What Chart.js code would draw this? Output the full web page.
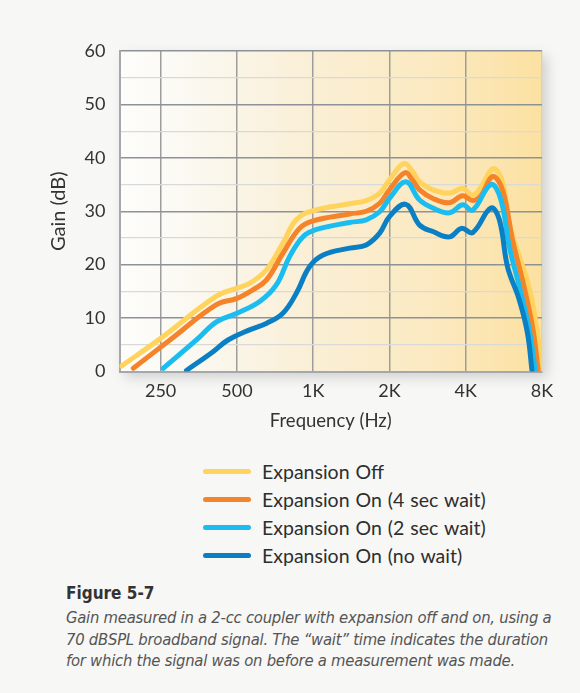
<!DOCTYPE html>
<html lang="en">
<head>
  <meta charset="UTF-8">
  <title>Figure 5-7</title>
  <script src="https://cdn.jsdelivr.net/npm/chart.js"></script>
  <style>
    body {
      margin: 0;
      width: 580px;
      height: 693px;
      background-color: #f7f7f6;
      font-family: 'Lato', sans-serif;
      color: #333;
      position: relative;
      overflow: hidden;
    }
    #wrap {
      position: absolute;
      left: 0;
      top: 0;
      width: 580px;
      height: 440px;
    }
    #legend {
      position: absolute;
      left: 203px;
      top: 458px;
    }
    .row {
      display: flex;
      align-items: center;
      height: 27.8px;
      font-size: 19.5px;
      word-spacing: 1px;
      color: #2e2e2e;
    }
    .bar {
      width: 48px;
      height: 5px;
      border-radius: 3px;
      margin-right: 11px;
    }
    #caption {
      position: absolute;
      left: 66px;
      top: 583px;
      font-family: 'Liberation Sans Narrow', 'DejaVu Sans Condensed', 'Liberation Sans', sans-serif;
      font-stretch: condensed;
    }
    #caption .fig {
      font-weight: 900;
      font-size: 17px;
      color: #333;
      margin-bottom: 4px;
    }
    #caption .txt {
      font-style: italic;
      font-size: 16.5px;
      line-height: 21.7px;
      letter-spacing: -0.25px;
      color: #555;
    }
  </style>
</head>
<body>

  <div id="wrap"><canvas id="gainChart" width="580" height="440"></canvas></div>
  <div id="legend"></div>
  <div id="caption">
    <div class="fig">Figure 5-7</div>
    <div class="txt">Gain measured in a 2-cc coupler with expansion off and on, using a<br>70 dBSPL broadband signal. The “wait” time indicates the duration<br>for which the signal was on before a measurement was made.</div>
  </div>

  <script>
    // axis ticks
    const freqTicks = [250, 500, 1000, 2000, 4000, 8000];
    const freqLabels = ['250', '500', '1K', '2K', '4K', '8K'];
    const gainTicks = [0, 10, 20, 30, 40, 50, 60];

    const seriesNames = ['Expansion Off', 'Expansion On (4 sec wait)', 'Expansion On (2 sec wait)', 'Expansion On (no wait)'];
    const seriesColors = ['#ffd35c', '#f5832a', '#1bbdf0', '#0a7fc4'];

    // Expansion Off
    const offFreq = [175, 250, 415, 500, 561, 653, 759, 857, 1000, 1394, 1620, 1830, 2000, 2280, 2470, 2630, 2970, 3450, 3890, 4260, 4600, 5150, 5620, 5950, 6510, 6920, 7340, 7800, 7920];
    const offGain = [1.0, 6.2, 14.1, 15.6, 16.5, 19.0, 24.0, 28.4, 30.1, 31.4, 32.0, 33.4, 35.9, 38.9, 37.4, 35.5, 34.0, 33.4, 34.3, 33.0, 34.6, 38.0, 35.0, 27.7, 21.5, 17.8, 12.8, 4.6, 0.5];

    // Expansion On, 4 sec wait
    const on4Freq = [195, 272, 415, 500, 578, 653, 759, 883, 1000, 1394, 1620, 1830, 2000, 2300, 2470, 2630, 2970, 3450, 3890, 4260, 4600, 5110, 5590, 6120, 6700, 7340, 7730];
    const on4Gain = [0.6, 5.9, 12.5, 13.7, 15.3, 17.1, 22.1, 26.8, 28.2, 29.5, 30.0, 31.5, 34.0, 37.2, 35.8, 34.0, 32.4, 31.6, 32.9, 32.0, 33.0, 36.5, 34.0, 24.6, 17.1, 8.4, 0.3];

    // Expansion On, 2 sec wait
    const on2Freq = [256, 346, 415, 500, 615, 715, 807, 910, 1031, 1394, 1620, 1830, 2000, 2320, 2630, 2970, 3450, 3890, 4260, 5030, 5510, 5940, 6510, 7120, 7520];
    const on2Gain = [0.6, 5.9, 9.3, 10.9, 13.1, 16.2, 21.5, 25.2, 26.6, 27.9, 28.4, 29.9, 32.4, 35.5, 32.1, 30.6, 29.7, 31.2, 30.2, 35.0, 32.1, 23.4, 15.9, 7.8, 0.3];

    // Expansion On, no wait
    const nwFreq = [316, 400, 461, 561, 653, 759, 857, 967, 1095, 1394, 1620, 1830, 2000, 2320, 2630, 2970, 3450, 3850, 4260, 5030, 5430, 5850, 6510, 7010, 7300];
    const nwGain = [0.2, 3.6, 5.9, 7.8, 9.0, 10.9, 14.6, 19.6, 21.8, 23.1, 23.7, 25.9, 29.0, 31.3, 27.4, 26.2, 25.2, 26.8, 26.0, 30.6, 28.4, 19.6, 13.4, 7.2, 0.3];

    const allFreq = [offFreq, on4Freq, on2Freq, nwFreq];
    const allGain = [offGain, on4Gain, on2Gain, nwGain];

    const fontFam = "'Lato', sans-serif";

    // shaded plot area with drop shadow
    const plotBg = {
      id: 'plotBg',
      beforeDraw(chart) {
        const { ctx, chartArea: a } = chart;
        ctx.save();
        ctx.shadowColor = 'rgba(0,0,0,0.16)';
        ctx.shadowBlur = 12;
        ctx.shadowOffsetX = 5;
        ctx.shadowOffsetY = 5;
        const g = ctx.createLinearGradient(a.left, 0, a.right, 0);
        g.addColorStop(0, '#fdfdfb');
        g.addColorStop(0.15, '#fbf9f3');
        g.addColorStop(0.45, '#faefd6');
        g.addColorStop(0.75, '#fbe9c0');
        g.addColorStop(1, '#fbe1a1');
        ctx.fillStyle = g;
        ctx.fillRect(a.left, a.top, a.width, a.height);
        ctx.restore();
      }
    };

    const ctx = document.getElementById('gainChart').getContext('2d');

    new Chart(ctx, {
      type: 'line',
      data: {
        datasets: seriesNames.map((name, i) => ({
          label: name,
          data: allFreq[i].map((f, j) => ({ x: f, y: allGain[i][j] })),
          borderColor: seriesColors[i],
          borderWidth: 5,
          borderCapStyle: 'round',
          borderJoinStyle: 'round',
          pointRadius: 0,
          fill: false,
          tension: 0.4
        })).reverse()
      },
      options: {
        responsive: false,
        devicePixelRatio: 1,
        animation: false,
        layout: { padding: { left: 44.5, top: 51, right: 38, bottom: 0 } },
        plugins: {
          legend: { display: false },
          tooltip: { enabled: false }
        },
        scales: {
          x: {
            type: 'logarithmic',
            min: 172,
            max: 8000,
            afterBuildTicks: scale => { scale.ticks = freqTicks.map(v => ({ value: v })); },
            afterFit: scale => { scale.height = 68.5; },
            ticks: {
              autoSkip: false,
              maxRotation: 0,
              padding: 9,
              color: '#333',
              font: { family: fontFam, size: 18 },
              callback: v => freqLabels[freqTicks.indexOf(v)]
            },
            grid: {
              drawTicks: false,
              color: c => (c.tick && c.tick.value === 8000) ? '#d9d3bd' : '#9d9d9d',
              lineWidth: 1.5
            },
            border: { display: true, color: '#a4a7ab', width: 2 },
            title: {
              display: true,
              text: 'Frequency (Hz)',
              color: '#333',
              font: { family: fontFam, size: 18.5 },
              padding: { top: 0, bottom: 8 }
            }
          },
          y: {
            min: 0,
            max: 60,
            afterFit: scale => { scale.width = 75; },
            ticks: {
              stepSize: 5,
              padding: 14,
              color: '#333',
              font: { family: fontFam, size: 18 },
              callback: v => gainTicks.includes(v) ? v : ''
            },
            grid: {
              drawTicks: false,
              color: c => gainTicks.includes(c.tick.value) ? '#8d9298' : '#d9d9d7',
              lineWidth: c => gainTicks.includes(c.tick.value) ? 1.5 : 1.2
            },
            border: { display: true, color: '#a4a7ab', width: 2 },
            title: {
              display: true,
              text: 'Gain (dB)',
              color: '#333',
              font: { family: fontFam, size: 20 },
              padding: { top: 2, bottom: 0 }
            }
          }
        }
      },
      plugins: [plotBg]
    });

    // legend below the chart
    const legend = document.getElementById('legend');
    seriesNames.forEach((name, i) => {
      const row = document.createElement('div');
      row.className = 'row';
      const bar = document.createElement('span');
      bar.className = 'bar';
      bar.style.background = seriesColors[i];
      const label = document.createElement('span');
      label.textContent = name;
      row.appendChild(bar);
      row.appendChild(label);
      legend.appendChild(row);
    });
  </script>

</body>
</html>
